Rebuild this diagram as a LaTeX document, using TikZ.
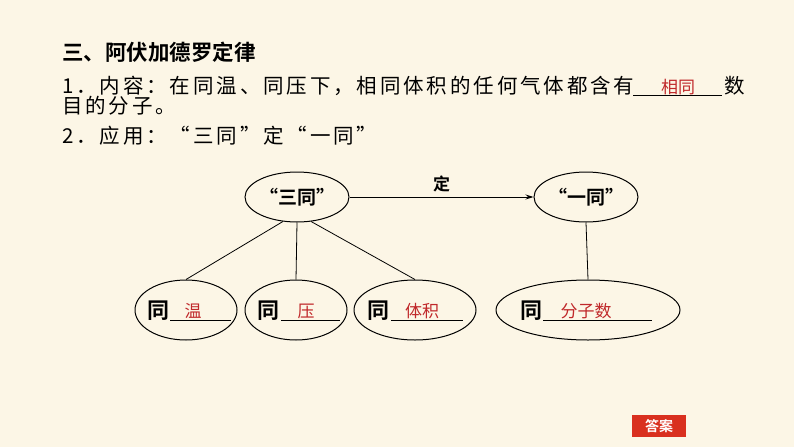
\documentclass[tikz,border=0pt]{standalone}
\usepackage{fontspec}
\setmainfont{Noto Sans CJK SC}
\newfontfamily\cjkb{Noto Sans CJK SC Bold}
\newfontfamily\cjks[LetterSpace=14]{Noto Sans CJK SC}
\usetikzlibrary{shapes.geometric,arrows.meta}
\definecolor{bg}{HTML}{FCF6E6}
\definecolor{ans}{HTML}{C0282A}
\definecolor{btn}{HTML}{D9301F}
\tikzset{
 oval/.style={draw,ellipse,line width=1pt,inner sep=0pt},
 conn/.style={line width=0.8pt},
 txt/.style={anchor=base west,inner sep=0pt,font=\cjks\fontsize{20.5}{20}\selectfont},
 red/.style={text=ans,font=\fontsize{17}{17}\selectfont,inner sep=0pt,anchor=base},
 tong/.style={anchor=base west,inner sep=0pt,font=\cjkb\fontsize{22}{22}\selectfont},
}
\begin{document}
\begin{tikzpicture}[x=1pt,y=-1pt]
\fill[bg] (0,0) rectangle (794,447);
\useasboundingbox (0,0) rectangle (794,447);
\node[txt,font=\cjkb\fontsize{21.5}{21}\selectfont] (t0) at (62,60) {三、阿伏加德罗定律};
\node[txt] (t1) at (62,93) {1．内容：在同温、同压下，相同体积的任何气体都含有};
\node[txt] (t1b) at (724,93) {数};
\node[red] (a0) at (678,93) {相同};
\draw[conn] (633,95) -- (722,95);
\node[txt] (t2) at (62,113) {目的分子。};
\node[txt] (t3) at (62,143) {2．应用：“三同”定“一同”};
% top ellipses
\node[oval,minimum width=104,minimum height=50] (s3) at (297,197) {};
\node[font=\cjkb\fontsize{19}{19}\selectfont] at (297,197) {“三同”};
\node[oval,minimum width=104,minimum height=50] (s1) at (586,197) {};
\node[font=\cjkb\fontsize{19}{19}\selectfont] at (586,197) {“一同”};
\draw[conn,-{Stealth[length=8pt,width=5pt]}] (s3) -- node[above=1pt,font=\cjkb\fontsize{17}{17}\selectfont]{定} (s1);
% bottom ellipses
\node[oval,minimum width=102,minimum height=60] (b1) at (186,310) {};
\node[oval,minimum width=102,minimum height=60] (b2) at (296,310) {};
\node[oval,minimum width=122,minimum height=60] (b3) at (415,310) {};
\node[oval,minimum width=184,minimum height=60] (b4) at (588,310) {};
\node[tong] at (147,318) {同};
\draw[conn] (170,320) -- (231,320); \node[red] at (193,317) {温};
\node[tong] at (257,318) {同};
\draw[conn] (281,320) -- (340,320); \node[red] at (306,317) {压};
\node[tong] at (367,318) {同};
\draw[conn] (391,320) -- (463,320); \node[red] at (422,317) {体积};
\node[tong] at (520,318) {同};
\draw[conn] (543,320) -- (652,320); \node[red] at (586,317) {分子数};
\draw[conn] (s3.240) -- (b1.north);
\draw[conn] (s3.south) -- (b2.north);
\draw[conn] (s3.300) -- (b3.north);
\draw[conn] (s1.south) -- (b4.north);
\node[fill=btn,text=white,minimum width=54,minimum height=22,inner sep=0pt,font=\cjkb\fontsize{14}{14}\selectfont] (btn) at (659,426) {答案};
\end{tikzpicture}
\end{document}
